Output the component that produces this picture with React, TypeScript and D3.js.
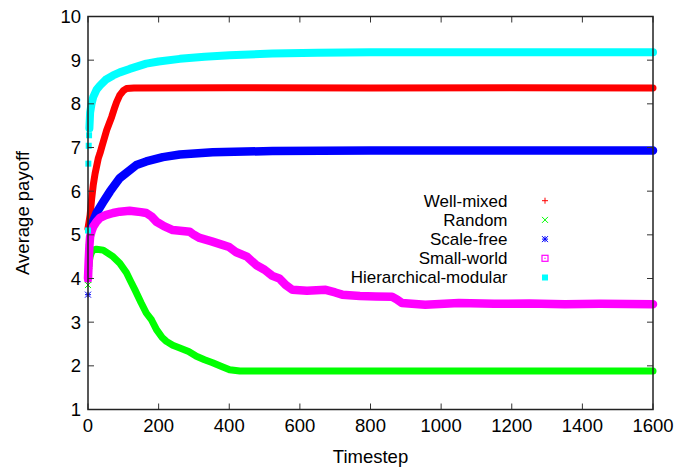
import * as d3 from "d3";

// series as [timestep, average payoff]
const seriesNames = ["Well-mixed", "Random", "Scale-free", "Small-world", "Hierarchical-modular"];
const seriesColors = ["#ff0000", "#00ff00", "#0000ff", "#ff00ff", "#00ffff"];
const seriesMarkers = ["plus", "cross", "star", "openSquare", "filledSquare"];
// timestep where the dense band starts (earlier points are single markers)
const bandStart = [0, 3, 6, 0, 4];
const bandWidth = [7, 7, 8.5, 8.5, 8];

const wellMixed: [number, number][] = [
  [0, 5.15], [3, 5.3], [6, 5.45], [10, 5.8], [15, 6.15], [20, 6.4], [29, 6.75], [34, 6.87],
  [39, 7.01], [53, 7.4], [60, 7.55], [67, 7.7], [75, 7.9], [81, 8.04], [90, 8.2], [100, 8.3],
  [109, 8.35], [130, 8.36], [400, 8.37], [800, 8.36], [1200, 8.37], [1600, 8.36],
];
const random: [number, number][] = [
  [0, 3.85], [1, 3.98], [2, 4.1], [3, 4.3], [4, 4.4], [6, 4.5], [10, 4.6], [15, 4.65], [24, 4.67],
  [43, 4.65], [71, 4.5], [90, 4.35], [109, 4.13], [120, 3.95], [133, 3.74], [150, 3.45],
  [165, 3.21], [180, 3.05], [194, 2.83], [210, 2.65], [222, 2.56], [240, 2.47], [260, 2.41],
  [285, 2.33], [307, 2.22], [330, 2.14], [353, 2.07], [380, 1.98], [401, 1.91], [430, 1.88],
  [494, 1.88], [1000, 1.88], [1600, 1.88],
];
const scaleFree: [number, number][] = [
  [0, 3.63], [1, 4.05], [2, 4.35], [3, 4.6], [4, 4.85], [6, 5.1], [10, 5.2], [15, 5.32],
  [24, 5.5], [43, 5.75], [62, 5.99], [90, 6.3], [137, 6.6], [165, 6.68], [212, 6.78],
  [260, 6.84], [353, 6.89], [522, 6.92], [800, 6.93], [1600, 6.93],
];
const smallWorld: [number, number][] = [
  [0, 4.0], [2, 4.4], [4, 4.75], [6, 4.96], [10, 5.08], [15, 5.19], [24, 5.3], [34, 5.39],
  [50, 5.45], [71, 5.5], [90, 5.53], [118, 5.55], [150, 5.52], [165, 5.5], [180, 5.42],
  [194, 5.3], [215, 5.2], [240, 5.11], [288, 5.07], [300, 5.0], [316, 4.93], [350, 4.85],
  [381, 4.77], [400, 4.72], [420, 4.6], [450, 4.5], [476, 4.31], [500, 4.2], [522, 4.06],
  [542, 4.0], [560, 3.85], [579, 3.74], [620, 3.72], [673, 3.74], [700, 3.68], [720, 3.63],
  [770, 3.6], [815, 3.59], [861, 3.58], [875, 3.52], [889, 3.44], [955, 3.4], [1050, 3.44],
  [1150, 3.42], [1250, 3.43], [1350, 3.41], [1450, 3.42], [1600, 3.41],
];
const hierarchical: [number, number][] = [
  [0, 5.1], [1, 6.63], [2, 7.04], [3, 7.28], [4, 7.44], [6, 7.8], [10, 8.0], [15, 8.16],
  [24, 8.32], [34, 8.42], [50, 8.55], [71, 8.65], [90, 8.72], [118, 8.8], [165, 8.92],
  [200, 8.97], [260, 9.03], [330, 9.08], [401, 9.11], [522, 9.15], [650, 9.17], [800, 9.18],
  [1600, 9.18],
];
const allSeries = [wellMixed, random, scaleFree, smallWorld, hierarchical];

const xTicks = [0, 200, 400, 600, 800, 1000, 1200, 1400, 1600];
const yTicks = [1, 2, 3, 4, 5, 6, 7, 8, 9, 10];

const W = 676;
const H = 468;
const font = "'Liberation Sans', Arial, Helvetica, sans-serif";

function Marker({ kind, cx, cy, color, s }) {
  const h = s / 2;
  if (kind === "plus")
    return (
      <path d={`M${cx - h},${cy}H${cx + h}M${cx},${cy - h}V${cy + h}`} stroke={color} strokeWidth={1} />
    );
  if (kind === "cross")
    return (
      <path
        d={`M${cx - h},${cy - h}L${cx + h},${cy + h}M${cx - h},${cy + h}L${cx + h},${cy - h}`}
        stroke={color}
        strokeWidth={1}
      />
    );
  if (kind === "star")
    return (
      <path
        d={`M${cx - h},${cy}H${cx + h}M${cx},${cy - h}V${cy + h}M${cx - h},${cy - h}L${cx + h},${cy + h}M${cx - h},${cy + h}L${cx + h},${cy - h}`}
        stroke={color}
        strokeWidth={1}
      />
    );
  if (kind === "openSquare")
    return (
      <g>
        <rect x={cx - h} y={cy - h} width={s} height={s} fill="none" stroke={color} strokeWidth={1.2} />
        <rect x={cx - 0.6} y={cy - 0.6} width={1.2} height={1.2} fill={color} />
      </g>
    );
  return <rect x={cx - h} y={cy - h} width={s} height={s} fill={color} />;
}

export default function App() {
  const x = d3.scaleLinear().domain([0, 1600]).range([88, 653]);
  const y = d3.scaleLinear().domain([1, 10]).range([409.5, 16.5]);
  const line = d3
    .line<[number, number]>()
    .x((d) => x(d[0]))
    .y((d) => y(d[1]));

  const [x0, x1] = x.range();
  const [yb, yt] = y.range();
  const tick = 6;
  const rowGap = 19.2;

  return (
    <svg width={W} height={H} style={{ position: "absolute", left: 0, top: 0, background: "#fff" }}>
      {/* bands + early markers */}
      {allSeries.map((data, i) => {
        const band = data.filter((d) => d[0] >= bandStart[i]);
        const early = data.filter((d) => d[0] <= bandStart[i]);
        return (
          <g key={seriesNames[i]}>
            <path
              d={line(band)}
              fill="none"
              stroke={seriesColors[i]}
              strokeWidth={bandWidth[i]}
              strokeLinejoin="round"
              strokeLinecap="round"
            />
            {early.map((d, j) => (
              <Marker key={j} kind={seriesMarkers[i]} cx={x(d[0])} cy={y(d[1])} color={seriesColors[i]} s={6} />
            ))}
          </g>
        );
      })}

      {/* ticks on all four sides */}
      <g stroke="#333" strokeWidth={1}>
        {xTicks.map((t) => (
          <g key={t}>
            <line x1={x(t)} x2={x(t)} y1={yb} y2={yb - tick} />
            <line x1={x(t)} x2={x(t)} y1={yt} y2={yt + tick} />
          </g>
        ))}
        {yTicks.map((t) => (
          <g key={t}>
            <line x1={x0} x2={x0 + tick} y1={y(t)} y2={y(t)} />
            <line x1={x1} x2={x1 - tick} y1={y(t)} y2={y(t)} />
          </g>
        ))}
      </g>
      <rect x={x0} y={yt} width={x1 - x0} height={yb - yt} fill="none" stroke="#222" strokeWidth={1.5} />

      {/* tick labels */}
      <g fontFamily={font} fontSize={18.5} fill="#000">
        {xTicks.map((t) => (
          <text key={t} x={x(t)} y={432} textAnchor="middle">
            {t}
          </text>
        ))}
        {yTicks.map((t) => (
          <text key={t} x={81} y={y(t) + 6.5} textAnchor="end">
            {t}
          </text>
        ))}
        <text x={(x0 + x1) / 2} y={463} textAnchor="middle">
          Timestep
        </text>
        <text transform={`translate(29,${(yb + yt) / 2}) rotate(-90)`} textAnchor="middle">
          Average payoff
        </text>
      </g>

      {/* legend */}
      <g fontFamily={font} fontSize={17} fill="#000">
        {seriesNames.map((name, i) => (
          <g key={name}>
            <text x={507.5} y={206.5 + i * rowGap} textAnchor="end">
              {name}
            </text>
            <Marker kind={seriesMarkers[i]} cx={545} cy={200.7 + i * rowGap} color={seriesColors[i]} s={6} />
          </g>
        ))}
      </g>
    </svg>
  );
}
